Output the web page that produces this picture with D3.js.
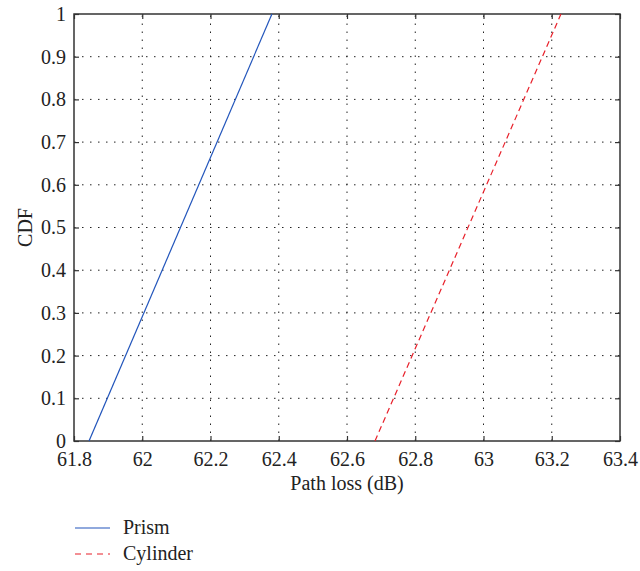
<!DOCTYPE html>
<html>
<head>
<meta charset="utf-8">
<script src="https://cdn.jsdelivr.net/npm/d3@7"></script>
<style>
  body { margin: 0; background: #fff; }
  text { font-family: "Liberation Serif", "DejaVu Serif", serif; fill: #222; }
</style>
</head>
<body>
<div id="chart"></div>
<script>
(function() {
    "use strict";

    var xTicks = [61.8, 62, 62.2, 62.4, 62.6, 62.8, 63, 63.2, 63.4];
    var yTicks = [0, 0.1, 0.2, 0.3, 0.4, 0.5, 0.6, 0.7, 0.8, 0.9, 1];
    var seriesNames = ["Prism", "Cylinder"];
    var seriesColors = ["#2255bb", "#e8202a"];
    var prismPoints = [[61.844, 0], [62.38, 1]];
    var cylinderPoints = [[62.682, 0], [63.227, 1]];

    var width = 640, height = 571;
    var margin = { left: 74, right: 20, top: 14, bottom: 130 };
    var fontSize = "20px";

    var svg = d3.select("#chart").append("svg")
        .attr("width", width)
        .attr("height", height);

    var x = d3.scaleLinear().domain([61.8, 63.4]).range([margin.left, width - margin.right]);
    var y = d3.scaleLinear().domain([0, 1]).range([height - margin.bottom, margin.top]);

    var x0 = x.range()[0], x1 = x.range()[1];
    var y0 = y.range()[0], y1 = y.range()[1];

    // dotted grid
    var grid = svg.append("g").attr("stroke", "#222").attr("stroke-width", 1)
        .attr("stroke-dasharray", "1.5,6.5");
    grid.selectAll("line.gx").data(xTicks.slice(1, -1)).join("line")
        .attr("x1", function(d) { return x(d); }).attr("x2", function(d) { return x(d); })
        .attr("y1", y0).attr("y2", y1);
    grid.selectAll("line.gy").data(yTicks.slice(1, -1)).join("line")
        .attr("y1", function(d) { return y(d); }).attr("y2", function(d) { return y(d); })
        .attr("x1", x0).attr("x2", x1);

    // axes with inward ticks on all four sides
    var fmt = function(d) { return String(+d.toFixed(1)); };
    var ax = svg.append("g").attr("transform", "translate(0," + y0 + ")")
        .call(d3.axisBottom(x).tickValues(xTicks).tickSize(-5).tickPadding(11).tickFormat(fmt));
    var axTop = svg.append("g").attr("transform", "translate(0," + y1 + ")")
        .call(d3.axisTop(x).tickValues(xTicks).tickSize(-5).tickFormat(""));
    var ay = svg.append("g").attr("transform", "translate(" + x0 + ",0)")
        .call(d3.axisLeft(y).tickValues(yTicks).tickSize(-5).tickPadding(8).tickFormat(fmt));
    var ayR = svg.append("g").attr("transform", "translate(" + x1 + ",0)")
        .call(d3.axisRight(y).tickValues(yTicks).tickSize(-5).tickFormat(""));

    [ax, axTop, ay, ayR].forEach(function(a) {
        a.attr("font-size", null).attr("font-family", null);
        a.select(".domain").remove();
        a.selectAll(".tick line").attr("stroke", "#333").attr("stroke-width", 1.2);
        a.selectAll("text").style("font-size", fontSize).attr("fill", "#222");
    });

    svg.append("rect")
        .attr("x", x0).attr("y", y1)
        .attr("width", x1 - x0).attr("height", y0 - y1)
        .attr("fill", "none").attr("stroke", "#333").attr("stroke-width", 1.5);

    // series
    var line = d3.line().x(function(d) { return x(d[0]); }).y(function(d) { return y(d[1]); });
    svg.append("path").datum(prismPoints)
        .attr("d", line).attr("fill", "none")
        .attr("stroke", seriesColors[0]).attr("stroke-width", 1.2);
    svg.append("path").datum(cylinderPoints)
        .attr("d", line).attr("fill", "none")
        .attr("stroke", seriesColors[1]).attr("stroke-width", 1.2)
        .attr("stroke-dasharray", "6,4");

    // axis titles
    svg.append("text")
        .attr("x", (x0 + x1) / 2).attr("y", 490)
        .attr("text-anchor", "middle").style("font-size", fontSize)
        .text("Path loss (dB)");
    svg.append("text")
        .attr("transform", "translate(32," + ((y0 + y1) / 2) + ") rotate(-90)")
        .attr("text-anchor", "middle").style("font-size", fontSize)
        .text("CDF");

    // legend
    var legend = svg.append("g");
    seriesNames.forEach(function(name, i) {
        var ly = 528 + i * 26;
        legend.append("line")
            .attr("x1", 75).attr("x2", 110).attr("y1", ly).attr("y2", ly)
            .attr("stroke", seriesColors[i]).attr("stroke-width", 1.2)
            .attr("stroke-dasharray", i === 1 ? "6,5" : null);
        legend.append("text")
            .attr("x", 123).attr("y", ly + 6)
            .style("font-size", fontSize)
            .text(name);
    });
})();
</script>
</body>
</html>
